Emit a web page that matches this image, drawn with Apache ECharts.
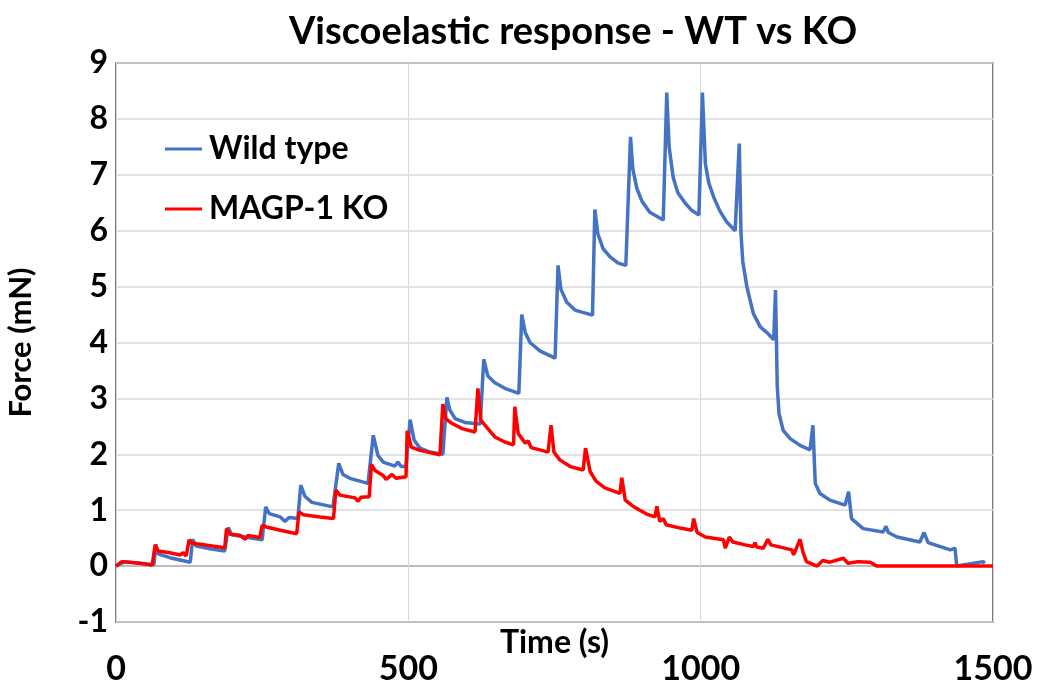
<!DOCTYPE html>
<html>
<head>
<meta charset="utf-8">
<script src="https://cdn.jsdelivr.net/npm/echarts@6/dist/echarts.min.js"></script>
<style>html,body{margin:0;padding:0;background:#fff}#chart{width:1037px;height:685px}</style>
</head>
<body>
<div id="chart"></div>
<script>
var titleText = 'Viscoelastic response - WT vs KO';
var seriesNames = ['Wild type', 'MAGP-1 KO'];
var xTicks = [0, 500, 1000, 1500];
var yTicks = [-1, 0, 1, 2, 3, 4, 5, 6, 7, 8, 9];

var wtTime = [0,15,58,65,68,72,92,127,131,137,161,186,192,198,221,250,256,262,281,289,296,311,316,323,335,371,381,388,400,431,440,448,457,477,482,488,496,503,510,520,537,559,566,571,580,597,623,629,636,648,665,689,694,700,708,725,751,756,761,771,785,815,819,824,833,845,859,872,880,884,891,900,913,936,942,946,953,961,973,985,997,1003,1008,1014,1023,1033,1045,1059,1066,1069,1072,1079,1090,1102,1115,1125,1128,1131,1134,1141,1153,1170,1187,1192,1196,1204,1221,1247,1253,1258,1278,1312,1317,1321,1336,1375,1382,1389,1427,1435,1438,1483,1486];
var wtForce = [0,0.08,0.03,0.03,0.39,0.22,0.15,0.07,0.48,0.36,0.31,0.27,0.69,0.56,0.52,0.47,1.06,0.94,0.88,0.80,0.87,0.85,1.45,1.25,1.14,1.06,1.84,1.64,1.57,1.48,2.34,1.98,1.86,1.79,1.86,1.78,1.78,2.62,2.25,2.11,2.04,2.00,3.02,2.79,2.64,2.57,2.54,3.70,3.40,3.28,3.18,3.09,4.50,4.18,4.00,3.85,3.72,5.38,4.95,4.72,4.58,4.49,6.38,5.95,5.68,5.53,5.42,5.38,7.68,7.10,6.75,6.52,6.33,6.19,8.47,7.50,6.95,6.68,6.50,6.36,6.28,8.47,7.20,6.85,6.58,6.35,6.15,6.00,7.56,5.95,5.45,5.00,4.52,4.28,4.16,4.05,4.94,3.21,2.73,2.43,2.28,2.16,2.08,2.52,1.48,1.30,1.18,1.09,1.33,0.85,0.67,0.61,0.71,0.60,0.52,0.43,0.60,0.42,0.29,0.32,0,0.08,0.05];

var koTime = [0,10,41,62,67,72,92,110,115,120,125,130,152,186,189,195,212,221,226,246,250,257,281,309,313,320,349,372,376,383,409,414,419,433,437,443,457,462,472,479,496,498,505,520,554,559,564,575,592,614,619,624,636,648,665,680,682,688,700,705,710,725,739,744,749,759,777,799,803,811,821,836,862,865,871,883,896,910,922,925,930,936,941,965,985,988,994,1008,1039,1042,1049,1055,1076,1090,1093,1096,1107,1115,1120,1156,1159,1170,1175,1181,1199,1209,1221,1244,1252,1269,1290,1301,1500];
var koForce = [0,0.08,0.05,0.02,0.38,0.27,0.24,0.20,0.24,0.18,0.47,0.41,0.38,0.33,0.67,0.57,0.55,0.48,0.55,0.51,0.73,0.70,0.64,0.58,0.97,0.92,0.88,0.85,1.36,1.27,1.22,1.16,1.23,1.24,1.82,1.71,1.62,1.55,1.64,1.57,1.60,2.42,2.13,2.07,1.99,2.90,2.64,2.55,2.46,2.40,3.18,2.61,2.46,2.31,2.22,2.17,2.85,2.37,2.20,2.24,2.12,2.08,2.04,2.52,2.04,1.90,1.78,1.72,2.11,1.69,1.52,1.40,1.30,1.58,1.18,1.08,1.00,0.92,0.88,1.07,0.80,0.85,0.74,0.68,0.64,0.85,0.60,0.52,0.47,0.32,0.52,0.43,0.38,0.35,0.42,0.34,0.32,0.48,0.38,0.29,0.20,0.48,0.25,0.08,0,0.10,0.07,0.14,0.05,0.08,0.07,0,0];

function pairs(t, f) { var out = []; for (var i = 0; i < t.length; i++) out.push([t[i], f[i]]); return out; }

var FONT = 'Lato';
var splitColors = yTicks.map(function (v) { return v === 0 ? '#a6a6a6' : '#d9d9d9'; });

var chart = echarts.init(document.getElementById('chart'), null, { renderer: 'canvas' });
chart.setOption({
  animation: false,
  backgroundColor: '#ffffff',
  title: {
    text: titleText, left: 568, top: 8, textAlign: 'center',
    textStyle: { fontFamily: FONT, fontWeight: 'bold', fontSize: 38, color: '#000' }
  },
  legend: {
    orient: 'vertical', left: 160, top: 128, itemGap: 28,
    icon: 'rect', itemWidth: 37, itemHeight: 3,
    textStyle: { fontFamily: FONT, fontWeight: 'bold', fontSize: 32, color: '#000', padding: [0, 0, 0, 2] },
    data: seriesNames
  },
  grid: { left: 116, right: 44, top: 63, bottom: 63, containLabel: false, outerBoundsMode: 'none',
    show: true, borderColor: '#4d4d4d', borderWidth: 1.5, backgroundColor: 'transparent' },
  xAxis: {
    type: 'value', min: 0, max: 1500, interval: 500,
    name: 'Time (s)', nameLocation: 'middle', nameGap: 5, nameMoveOverlap: false,
    nameTextStyle: { fontFamily: FONT, fontWeight: 'bold', fontSize: 32, color: '#000', verticalAlign: 'top' },
    axisLine: { show: false, onZero: false }, axisTick: { show: false },
    axisLabel: { margin: 30, fontFamily: FONT, fontWeight: 'bold', fontSize: 34, color: '#000',
      formatter: function (v) { return xTicks.indexOf(v) >= 0 ? String(v) : ''; } },
    splitLine: { show: true, lineStyle: { color: '#d9d9d9', width: 1 } }
  },
  yAxis: {
    type: 'value', min: -1, max: 9, interval: 1,
    name: 'Force (mN)', nameLocation: 'middle', nameGap: 80, nameRotate: 90, nameMoveOverlap: false,
    nameTextStyle: { fontFamily: FONT, fontWeight: 'bold', fontSize: 31, color: '#000' },
    axisLine: { show: false }, axisTick: { show: false },
    axisLabel: { margin: 8, fontFamily: FONT, fontWeight: 'bold', fontSize: 32, color: '#000' },
    splitLine: { show: true, lineStyle: { color: splitColors, width: 1.5 } }
  },
  series: [
    { name: seriesNames[0], type: 'line', data: pairs(wtTime, wtForce), showSymbol: false, symbol: 'none',
      lineStyle: { color: '#4472C4', width: 3.5 }, itemStyle: { color: '#4472C4' } },
    { name: seriesNames[1], type: 'line', data: pairs(koTime, koForce), showSymbol: false, symbol: 'none',
      lineStyle: { color: '#FF0000', width: 3.5 }, itemStyle: { color: '#FF0000' } }
  ]
});
</script>
</body>
</html>
